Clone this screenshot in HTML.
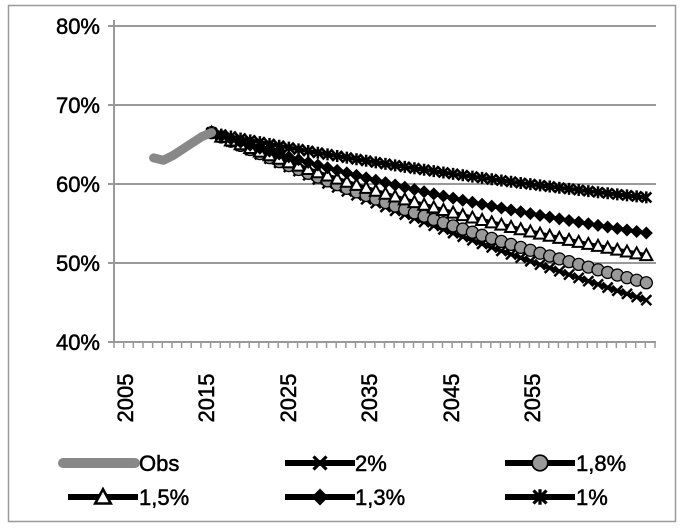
<!DOCTYPE html>
<html><head><meta charset="utf-8"><style>
body{margin:0;background:#fff}
svg{display:block}
text{font-family:"Liberation Sans",sans-serif;font-size:22px;fill:#000;stroke:#000;stroke-width:0.5}
</style></head><body>
<svg id="s" width="684" height="529" xmlns="http://www.w3.org/2000/svg">
<rect x="8.5" y="5.5" width="667" height="516" fill="#fff" stroke="#999" stroke-width="1.5"/>
<g stroke="#999" stroke-width="2">
<line x1="114" y1="26" x2="656" y2="26"/>
<line x1="114" y1="105" x2="656" y2="105"/>
<line x1="114" y1="184" x2="656" y2="184"/>
<line x1="114" y1="263" x2="656" y2="263"/>
<line x1="108" y1="342" x2="656" y2="342"/>
<line x1="114" y1="20" x2="114" y2="342"/>
<line x1="108" y1="26" x2="114" y2="26"/><line x1="108" y1="105" x2="114" y2="105"/>
<line x1="108" y1="184" x2="114" y2="184"/><line x1="108" y1="263" x2="114" y2="263"/>
</g>
<g id="ticks" stroke="#999" stroke-width="1.5"></g>
<g text-anchor="end">
<text x="100" y="34">80%</text><text x="100" y="113">70%</text>
<text x="100" y="192">60%</text><text x="100" y="271">50%</text><text x="100" y="350">40%</text>
</g>
<g>
<text transform="translate(133,398) rotate(-90)" text-anchor="middle">2005</text>
<text transform="translate(214,398) rotate(-90)" text-anchor="middle">2015</text>
<text transform="translate(296,398) rotate(-90)" text-anchor="middle">2025</text>
<text transform="translate(377,398) rotate(-90)" text-anchor="middle">2035</text>
<text transform="translate(459,398) rotate(-90)" text-anchor="middle">2045</text>
<text transform="translate(540,398) rotate(-90)" text-anchor="middle">2055</text>
</g>
<g id="series"></g>
<g id="legend"></g>
<text x="139" y="471">Obs</text>
<text x="355" y="471">2%</text>
<text x="576" y="471">1,8%</text>
<text x="139" y="505">1,5%</text>
<text x="355" y="505">1,3%</text>
<text x="576" y="505">1%</text>
</svg>
<script>
const NS="http://www.w3.org/2000/svg";
function el(t,a,p){const e=document.createElementNS(NS,t);for(const k in a)e.setAttribute(k,a[k]);p.appendChild(e);return e;}
const W=541/56;
const X=y=>114+W*(y-2005+0.1);
const Y=v=>342-(v-40)*7.9;
const tk=document.getElementById('ticks');
for(let i=0;i<=56;i++){const x=114+W*i;el('line',{x1:x,y1:342,x2:x,y2:348},tk);}
const S=document.getElementById('series');
function marker(type,x,y,g){
 if(type=='x'){el('path',{d:`M${x-5} ${y-5}L${x+5} ${y+5}M${x-5} ${y+5}L${x+5} ${y-5}`,stroke:'#000','stroke-width':2.5},g);}
 else if(type=='o'){el('circle',{cx:x,cy:y,r:6,fill:'#999',stroke:'#000','stroke-width':1.3},g);}
 else if(type=='t'){el('path',{d:`M${x} ${y-6}L${x+6} ${y+5}L${x-6} ${y+5}Z`,fill:'#fff',stroke:'#000','stroke-width':2},g);}
 else if(type=='d'){el('path',{d:`M${x} ${y-6.5}L${x+6.5} ${y}L${x} ${y+6.5}L${x-6.5} ${y}Z`,fill:'#000'},g);}
 else if(type=='a'){el('path',{d:`M${x-5} ${y-5}L${x+5} ${y+5}M${x-5} ${y+5}L${x+5} ${y-5}M${x} ${y-6}L${x} ${y+6}`,stroke:'#000','stroke-width':2.5},g);}
}
const ser=[[58.3,0.015,'a'],[53.8,0.018,'d'],[51,0.018,'t'],[47.5,0.012,'o'],[45.3,0.008,'x']];
ser.slice().reverse().forEach(([end,k,m])=>{
 const pts=[];
 for(let yr=2015;yr<=2060;yr++){const t=yr-2015;const g=(1-Math.exp(-k*t))/(1-Math.exp(-k*45));pts.push([X(yr),Y(66.5-(66.5-end)*g)]);}
 el('polyline',{points:pts.map(p=>p.join(',')).join(' '),fill:'none',stroke:'#000','stroke-width':4},S);
 pts.forEach(p=>marker(m,p[0],p[1],S));
});
const obs=[[2009,63.3],[2010,63],[2011,63.6],[2012,64.4],[2013,65.2],[2014,66],[2015,66.5]];
el('polyline',{points:obs.map(o=>X(o[0])+','+Y(o[1])).join(' '),fill:'none',stroke:'#888','stroke-width':9,'stroke-linecap':'round','stroke-linejoin':'round'},S);
const L=document.getElementById('legend');
function leg(x,y,m,obsl){
 if(obsl){el('line',{x1:x,y1:y,x2:x+72,y2:y,stroke:'#888','stroke-width':10,'stroke-linecap':'round'},L);return;}
 el('line',{x1:x,y1:y,x2:x+70,y2:y,stroke:'#000','stroke-width':6},L);
 const g=el('g',{transform:`translate(${x+35},${y}) scale(1.3) translate(${-(x+35)},${-y})`},L);
 marker(m,x+35,y,g);
}
leg(63,463,null,true);leg(285,463,'x');leg(505,463,'o');
leg(68,497,'t');leg(285,497,'d');leg(505,497,'a');
</script>
</body></html>
